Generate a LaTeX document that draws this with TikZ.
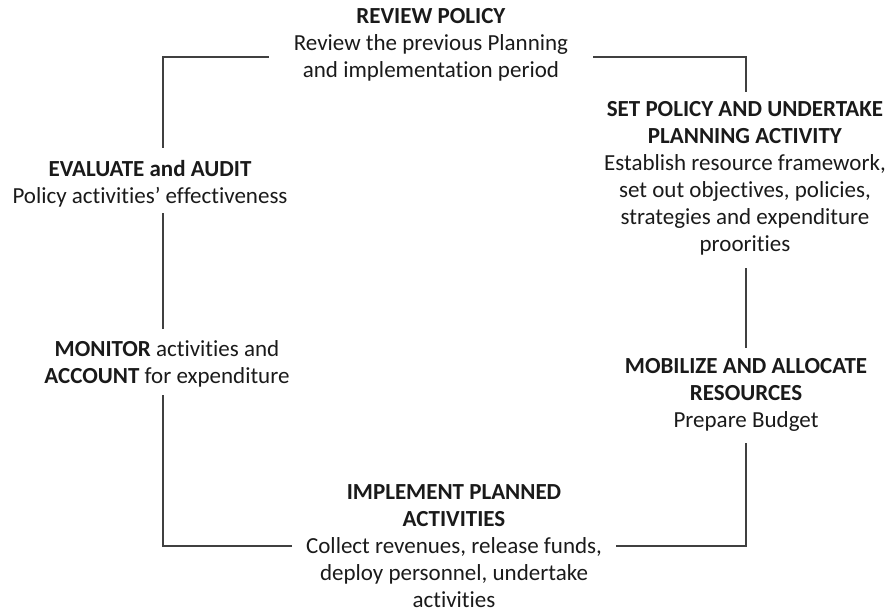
\documentclass[tikz,border=0pt]{standalone}
\usepackage{fontspec}
\setmainfont[Ligatures=NoCommon]{Carlito}
\definecolor{linegray}{HTML}{404040}
\definecolor{txt}{HTML}{1A1A1A}
\begin{document}
\begin{tikzpicture}[x=1bp,y=-1bp,
  conn/.style={draw=linegray,line width=1.6bp},
  label/.style={align=center,inner sep=0pt,text=txt,
    font=\fontsize{23bp}{27bp}\selectfont}]
\useasboundingbox (0,0) rectangle (888,613);
% text nodes
\node[label] (review) at (431,45) {\textbf{REVIEW POLICY}\\Review the previous Planning\\and implementation period};
\node[label] (setpol) at (745,178) {\textbf{SET POLICY AND UNDERTAKE}\\\textbf{PLANNING ACTIVITY}\\Establish resource framework,\\set out objectives, policies,\\strategies and expenditure\\proorities};
\node[label] (mobilize) at (746,395) {\textbf{MOBILIZE AND ALLOCATE}\\\textbf{RESOURCES}\\Prepare Budget};
\node[label] (implement) at (454,546) {\textbf{IMPLEMENT PLANNED}\\\textbf{ACTIVITIES}\\Collect revenues, release funds,\\deploy personnel, undertake\\activities};
\node[label] (monitor) at (167,364) {\textbf{MONITOR} activities and\\\textbf{ACCOUNT} for expenditure};
\node[label] (evaluate) at (150,184) {\textbf{EVALUATE and AUDIT}\\Policy activities' effectiveness};
% connector end points and corners
\coordinate (tl) at (163,57);
\coordinate (tr) at (746,57);
\coordinate (br) at (746,546);
\coordinate (bl) at (163,546);
\coordinate (rvL) at (269,57);
\coordinate (rvR) at (593,57);
\coordinate (spT) at (746,92);
\coordinate (spB) at (746,268);
\coordinate (mbT) at (746,348);
\coordinate (mbB) at (746,443);
\coordinate (imR) at (616,546);
\coordinate (imL) at (292,546);
\coordinate (mnB) at (163,395);
\coordinate (mnT) at (163,329);
\coordinate (evB) at (163,213);
\coordinate (evT) at (163,148);
% connectors
\draw[conn] (rvR) -- (tr) -- (spT);
\draw[conn] (spB) -- (mbT);
\draw[conn] (mbB) -- (br) -- (imR);
\draw[conn] (imL) -- (bl) -- (mnB);
\draw[conn] (mnT) -- (evB);
\draw[conn] (evT) -- (tl) -- (rvL);
\end{tikzpicture}
\end{document}
